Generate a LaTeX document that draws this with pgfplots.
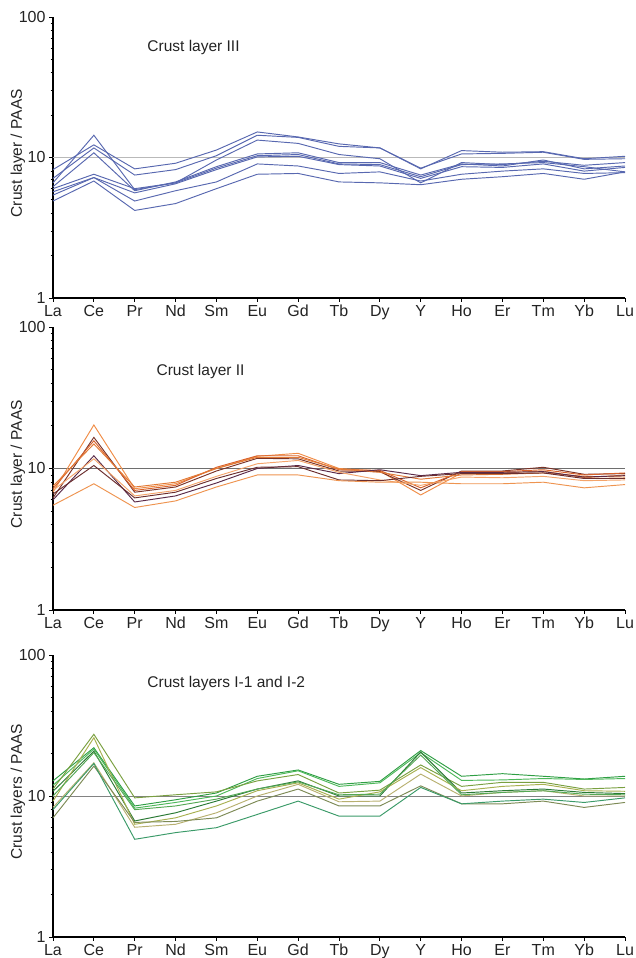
\documentclass[border=0pt]{standalone}
\usepackage{pgfplots}
\pgfplotsset{compat=1.18}
\usepackage{pgfplotstable}
\usepackage{fontspec}
\setmainfont{Liberation Sans}

% PAAS-normalised REE + Y patterns, one column per sample
\pgfplotstableread{
x  a    b    c    d    e    f    g    h
0  8.2  7.1  6.6  6.2  6.0  5.7  5.4  4.9
1  12.3 11.7 14.4 10.8 7.6  7.2  7.2  6.8
2  8.3  7.5  5.9  5.8  6.0  5.6  4.9  4.2
3  9.1  8.2  6.6  6.7  6.6  6.5  5.8  4.7
4  11.3 10.3 9.6  8.6  8.4  8.2  6.7  6.0
5  15.2 14.4 13.3 10.6 10.3 10.1 9.0  7.6
6  14.0 13.9 12.6 10.8 10.5 10.2 8.7  7.7
7  12.5 12.0 10.5 9.2  9.0  8.9  7.7  6.7
8  11.7 11.7 9.8  9.2  8.9  8.7  7.9  6.6
9  8.3  8.4  6.6  7.5  7.3  7.1  6.8  6.4
10 11.2 10.6 9.2  9.0  8.9  8.6  7.6  7.0
11 10.9 10.7 8.9  8.7  9.0  8.5  8.0  7.3
12 11.0 10.9 9.4  9.6  9.2  9.0  8.3  7.7
13 9.8  9.7  8.8  8.3  8.6  8.0  7.7  7.0
14 10.2 9.8  9.2  8.7  7.9  8.5  7.8  7.9
}\layerIII

\pgfplotstableread{
x  a    b    c    d    e    f    g    h
0  6.8  6.2  7.2  7.5  6.0  7.0  6.6  5.5
1  20.3 16.6 15.7 14.9 12.3 11.7 10.5 7.8
2  7.2  6.8  7.0  7.4  5.8  6.4  6.2  5.3
3  7.8  7.4  7.6  8.0  6.4  7.0  6.8  5.9
4  10.0 9.6  10.2 10.0 7.9  8.8  8.5  7.4
5  12.2 11.8 12.3 12.0 10.0 10.8 10.2 9.0
6  12.8 11.7 12.3 12.0 10.5 11.4 10.3 9.0
7  10.0 9.6  9.8  9.9  9.2  9.4  8.3  8.2
8  9.6  9.5  9.7  9.4  9.8  8.3  8.2  8.0
9  6.5  7.0  7.3  8.4  8.9  7.6  8.8  8.0
10 9.3  9.6  9.5  9.0  9.4  8.7  9.2  7.8
11 9.3  9.6  9.5  9.1  9.4  8.6  9.2  7.8
12 9.6  10.2 9.8  9.3  9.5  8.8  9.3  8.0
13 8.6  9.1  9.0  8.8  8.7  8.2  8.5  7.3
14 9.0  9.2  9.3  8.7  8.9  8.3  8.5  7.7
}\layerII

\pgfplotstableread{
x  a    b    c    d    e    f    g    h    i
0  12.8 11.9 11.2 10.8 9.2  8.3  7.0  8.0  10.0
1  22.0 21.5 27.4 20.8 25.9 17.2 16.3 17.0 20.3
2  8.5  8.2  9.7  6.65 6.3  6.0  6.5  4.93 8.0
3  9.4  9.0  10.2 7.6  7.0  6.3  6.6  5.5  8.5
4  10.5 10.0 10.7 9.2  8.5  7.6  7.0  5.96 9.5
5  13.8 13.3 12.8 11.2 10.9 10.0 9.2  7.4  11.2
6  15.3 15.1 14.2 12.8 12.4 12.1 11.2 9.2  12.6
7  12.1 11.7 10.5 10.0 9.5  9.1  8.5  7.2  10.2
8  12.7 12.4 11.0 10.0 10.7 9.2  8.5  7.2  10.3
9  21.0 20.3 16.6 20.5 15.9 14.3 11.8 11.5 19.5
10 13.8 12.9 11.7 10.5 10.9 10.0 8.8  8.8  10.2
11 14.4 13.0 12.5 10.9 11.7 10.6 8.8  9.2  10.6
12 13.8 13.3 12.5 11.2 12.1 10.9 9.2  9.5  10.9
13 13.2 13.1 11.2 10.6 10.9 10.0 8.3  9.0  10.3
14 13.8 13.3 11.5 10.4 10.8 10.0 9.0  9.7  10.2
}\layerI

\definecolor{blueL}{RGB}{88,104,176}
\definecolor{oA}{RGB}{240,140,70}
\definecolor{oB}{RGB}{122,51,40}
\definecolor{oC}{RGB}{217,98,43}
\definecolor{oD}{RGB}{226,122,53}
\definecolor{oE}{RGB}{90,42,72}
\definecolor{oF}{RGB}{244,164,106}
\definecolor{oG}{RGB}{107,46,46}
\definecolor{oH}{RGB}{238,148,80}
\definecolor{gA}{RGB}{47,158,68}
\definecolor{gB}{RGB}{77,184,90}
\definecolor{gC}{RGB}{122,160,64}
\definecolor{gD}{RGB}{43,122,53}
\definecolor{gE}{RGB}{168,176,80}
\definecolor{gF}{RGB}{184,176,112}
\definecolor{gG}{RGB}{125,138,85}
\definecolor{gH}{RGB}{58,154,104}
\definecolor{gI}{RGB}{85,168,85}
\definecolor{txt}{RGB}{35,35,35}
\definecolor{refA}{RGB}{185,185,185}
\definecolor{refB}{RGB}{110,110,110}
\definecolor{refC}{RGB}{130,130,130}

\pgfplotsset{
  reepanel/.style={
    scale only axis,
    width=572bp,
    xmin=0, xmax=14,
    ymin=1, ymax=100,
    axis x line*=bottom, axis y line*=left,
    axis line style={-, line width=1.2bp, black},
    xtick={0,...,14},
    xticklabels={La,Ce,Pr,Nd,Sm,Eu,Gd,Tb,Dy,Y,Ho,Er,Tm,Yb,Lu},
    ytick={1,10,100},
    yticklabels={1,10,100},
    minor ytick={2,3,4,5,6,7,8,9,20,30,40,50,60,70,80,90},
    tick align=outside,
    major tick length=4bp,
    minor tick length=2.5bp,
    every tick/.style={black, line width=0.9bp},
    tick label style={font=\fontsize{16bp}{18bp}\selectfont, text=txt},
    xticklabel style={yshift=0.5bp},
    ylabel style={font=\fontsize{15.5bp}{17bp}\selectfont, text=txt,
      at={(axis description cs:-0.0612,0.515)}, anchor=center},
    clip=false,
    every axis plot/.append style={line width=0.95bp, mark=none},
  },
}

\begin{document}
\begin{tikzpicture}
\path[use as bounding box] (0bp,0bp) rectangle (636bp,958bp);

% Crust layer III
\begin{axis}[ymode=log, reepanel, at={(53bp,660bp)}, anchor=south west, height=281bp,
  ylabel={Crust layer / PAAS}]
  \addplot[refA, line width=1.2bp] coordinates {(0,10) (14,10)};
  \addplot[blueL] table[x=x, y=a] {\layerIII};
  \addplot[blueL] table[x=x, y=b] {\layerIII};
  \addplot[blueL] table[x=x, y=c] {\layerIII};
  \addplot[blueL] table[x=x, y=d] {\layerIII};
  \addplot[blueL] table[x=x, y=e] {\layerIII};
  \addplot[blueL] table[x=x, y=f] {\layerIII};
  \addplot[blueL] table[x=x, y=g] {\layerIII};
  \addplot[blueL] table[x=x, y=h] {\layerIII};
  \node[anchor=west, font=\fontsize{15.5bp}{17bp}\selectfont, text=txt]
    at (axis description cs:0.159,0.893) {Crust layer III};
\end{axis}

% Crust layer II
\begin{axis}[ymode=log, reepanel, at={(53bp,348bp)}, anchor=south west, height=283bp,
  ylabel={Crust layer / PAAS}]
  \addplot[refB, line width=0.6bp] coordinates {(0,10) (14,10)};
  \addplot[oA] table[x=x, y=a] {\layerII};
  \addplot[oB] table[x=x, y=b] {\layerII};
  \addplot[oC] table[x=x, y=c] {\layerII};
  \addplot[oD] table[x=x, y=d] {\layerII};
  \addplot[oE] table[x=x, y=e] {\layerII};
  \addplot[oF] table[x=x, y=f] {\layerII};
  \addplot[oG] table[x=x, y=g] {\layerII};
  \addplot[oH] table[x=x, y=h] {\layerII};
  \node[anchor=west, font=\fontsize{15.5bp}{17bp}\selectfont, text=txt]
    at (axis description cs:0.175,0.841) {Crust layer II};
\end{axis}

% Crust layers I-1 and I-2
\begin{axis}[ymode=log, reepanel, at={(53bp,21bp)}, anchor=south west, height=282bp,
  ylabel={Crust layers / PAAS}]
  \addplot[refC, line width=0.6bp] coordinates {(0,10) (14,10)};
  \addplot[gA] table[x=x, y=a] {\layerI};
  \addplot[gB] table[x=x, y=b] {\layerI};
  \addplot[gC] table[x=x, y=c] {\layerI};
  \addplot[gD] table[x=x, y=d] {\layerI};
  \addplot[gE] table[x=x, y=e] {\layerI};
  \addplot[gF] table[x=x, y=f] {\layerI};
  \addplot[gG] table[x=x, y=g] {\layerI};
  \addplot[gH] table[x=x, y=h] {\layerI};
  \addplot[gI] table[x=x, y=i] {\layerI};
  \node[anchor=west, font=\fontsize{15.5bp}{17bp}\selectfont, text=txt]
    at (axis description cs:0.159,0.90) {Crust layers I-1 and I-2};
\end{axis}
\end{tikzpicture}
\end{document}
